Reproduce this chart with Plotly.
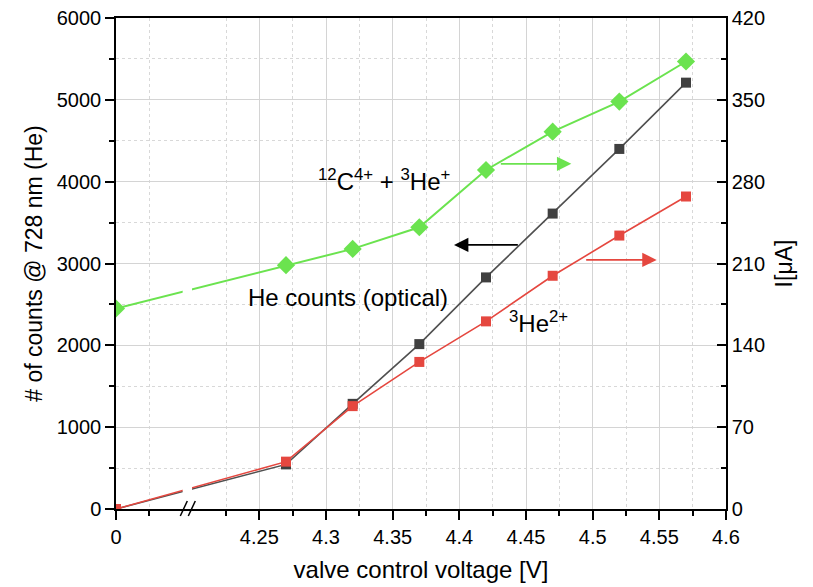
import plotly.graph_objects as go

# ---- data ----
voltage = [0, 4.27, 4.32, 4.37, 4.42, 4.47, 4.52, 4.57]           # valve control voltage [V]
he_counts = [0, 545, 1285, 2015, 2830, 3610, 4400, 5210]          # He counts (optical), left axis
he2_current = [0, 40.5, 88.0, 125.8, 160.5, 199.5, 233.9, 267.3]  # 3He2+ current [uA], right axis
c4_he1_current = [171.5, 208.6, 222.5, 241.0, 290.0, 322.8, 348.5, 382.8]  # 12C4+ + 3He+ [uA]

x_tick_values = [0, 4.25, 4.3, 4.35, 4.4, 4.45, 4.5, 4.55, 4.6]
x_tick_text = ["0", "4.25", "4.3", "4.35", "4.4", "4.45", "4.5", "4.55", "4.6"]
y_left_ticks = [0, 1000, 2000, 3000, 4000, 5000, 6000]
y_right_ticks = [0, 70, 140, 210, 280, 350, 420]

# broken x axis: the value 0 is drawn just left of the second segment
BREAK_ZERO = 4.1425


def bx(v):
    return BREAK_ZERO + v if v < 1 else v


xs = [bx(v) for v in voltage]
xt = [bx(v) for v in x_tick_values]

GREEN = "#6BE34F"
RED = "#E5473F"
DARK = "#404040"
FONT = "Liberation Sans, Arial, sans-serif"

fig = go.Figure()
fig.add_trace(go.Scatter(x=xs, y=he_counts, mode="lines+markers", yaxis="y",
                         line=dict(color="#505050", width=1.6),
                         marker=dict(symbol="square", size=10, color=DARK),
                         name="He counts (optical)"))
fig.add_trace(go.Scatter(x=xs, y=he2_current, mode="lines+markers", yaxis="y2",
                         line=dict(color=RED, width=1.6),
                         marker=dict(symbol="square", size=10, color=RED),
                         name="3He2+"))
fig.add_trace(go.Scatter(x=xs, y=c4_he1_current, mode="lines+markers", yaxis="y2",
                         line=dict(color=GREEN, width=2),
                         marker=dict(symbol="diamond", size=14, color=GREEN),
                         name="12C4+ + 3He+"))

shapes = []
# gaps in the lines at the axis break
for (y0, y1) in [(2560, 2780), (120, 400)]:
    shapes.append(dict(type="rect", xref="x", yref="y", x0=4.1925, x1=4.1995,
                       y0=y0, y1=y1, fillcolor="white", line=dict(width=0), layer="above"))
# break marks on the x axis
pxv = 1 / 1333.33
for x0p in [181, 189]:
    shapes.append(dict(type="line", xref="x", yref="paper",
                       x0=BREAK_ZERO + (x0p - 116.7) * pxv, y0=(509 - 516) / 491,
                       x1=BREAK_ZERO + (x0p + 7 - 116.7) * pxv, y1=(509 - 501) / 491,
                       line=dict(color="black", width=1.5), layer="above"))

annotations = [
    dict(x=4.3438, y=4022, xref="x", yref="y", showarrow=False,
         text="<sup>12</sup>C<sup>4+</sup> + <sup>3</sup>He<sup>+</sup>",
         font=dict(size=24, color="black", family=FONT)),
    dict(x=4.3168, y=2590, xref="x", yref="y", showarrow=False,
         text="He counts (optical)", font=dict(size=24, color="black", family=FONT)),
    dict(x=4.4590, y=2286, xref="x", yref="y", showarrow=False,
         text="<sup>3</sup>He<sup>2+</sup>", font=dict(size=24, color="black", family=FONT)),
    # direction arrows
    dict(x=4.484, y=4218, ax=4.43, ay=4218, xref="x", yref="y", axref="x", ayref="y",
         showarrow=True, arrowhead=2, arrowsize=1.8, arrowwidth=1.6, arrowcolor=GREEN, text=""),
    dict(x=4.396, y=3227, ax=4.445, ay=3227, xref="x", yref="y", axref="x", ayref="y",
         showarrow=True, arrowhead=2, arrowsize=1.8, arrowwidth=1.6, arrowcolor="black", text=""),
    dict(x=4.548, y=3044, ax=4.494, ay=3044, xref="x", yref="y", axref="x", ayref="y",
         showarrow=True, arrowhead=2, arrowsize=1.8, arrowwidth=1.6, arrowcolor=RED, text=""),
]

fig.update_layout(
    width=813, height=587,
    margin=dict(l=116, r=87, t=18, b=78),
    paper_bgcolor="white", plot_bgcolor="white",
    showlegend=False,
    font=dict(family=FONT, color="black", size=20),
    shapes=shapes, annotations=annotations,
    xaxis=dict(
        range=[BREAK_ZERO, 4.6], tickmode="array", tickvals=xt, ticktext=x_tick_text,
        ticks="outside", ticklen=9, tickwidth=1.5, tickcolor="black",
        showline=True, linecolor="black", linewidth=1.5, mirror=True,
        showgrid=True, gridcolor="#d4d4d4", gridwidth=1, zeroline=False,
        tickfont=dict(size=20), automargin=False,
        minor=dict(tickmode="array",
                   tickvals=[BREAK_ZERO + 0.025, 4.225, 4.275, 4.325, 4.375, 4.425, 4.475, 4.525, 4.575],
                   ticks="outside", ticklen=5, tickwidth=1.5, tickcolor="black",
                   showgrid=True, gridcolor="#d8d8d8", griddash="dot"),
        title=dict(text="valve control voltage [V]", font=dict(size=24), standoff=14),
    ),
    yaxis=dict(
        range=[0, 6000], tickmode="array", tickvals=y_left_ticks,
        ticks="outside", ticklen=9, tickwidth=1.5, tickcolor="black",
        showline=True, linecolor="black", linewidth=1.5,
        showgrid=True, gridcolor="#d4d4d4", gridwidth=1, zeroline=False,
        tickfont=dict(size=20), automargin=False,
        minor=dict(dtick=500, ticks="outside", ticklen=5, tickwidth=1.5, tickcolor="black",
                   showgrid=True, gridcolor="#d8d8d8", griddash="dot"),
        title=dict(text="# of counts @ 728 nm (He)", font=dict(size=23), standoff=8),
    ),
    yaxis2=dict(
        range=[0, 420], overlaying="y", side="right", tickmode="array", tickvals=y_right_ticks,
        ticks="inside", ticklen=9, tickwidth=1.5, tickcolor="black",
        showline=True, linecolor="black", linewidth=1.5,
        showgrid=False, zeroline=False, tickfont=dict(size=20), automargin=False,
        minor=dict(dtick=35, ticks="inside", ticklen=5, tickwidth=1.5, tickcolor="black",
                   showgrid=False),
        title=dict(text="I[μA]", font=dict(size=23), standoff=12),
    ),
)

fig.write_html("out.html")
